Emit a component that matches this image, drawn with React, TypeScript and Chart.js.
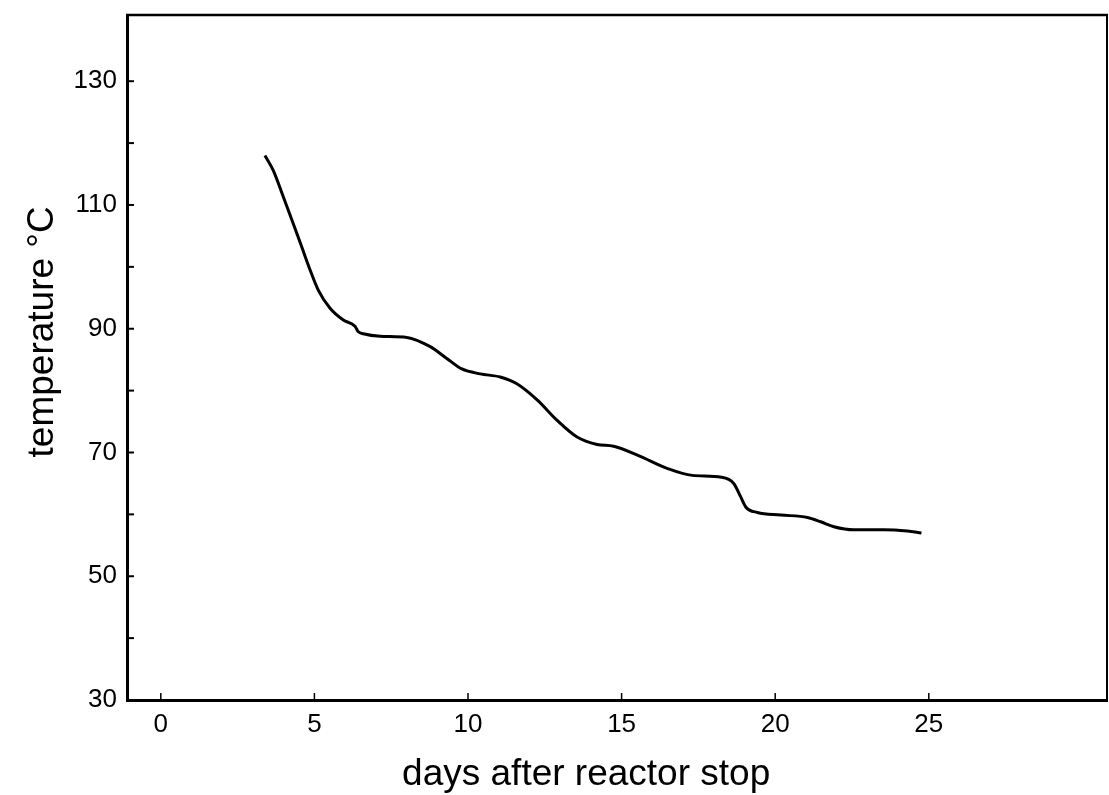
import React, { useEffect, useRef } from 'react';
import { Chart, registerables } from 'chart.js';

Chart.register(...registerables);

// Curve: day after reactor stop, temperature in °C
const DAYS = [
  3.39, 3.66, 3.99, 4.31, 4.59, 4.86, 5.13, 5.51, 5.94, 6.32, 6.43, 6.59, 7.14, 8.01,
  8.77, 9.31, 9.8, 10.4, 11.05, 11.59, 12.25, 12.9, 13.55, 14.2, 14.74, 15.55, 16.5,
  17.3, 18.25, 18.65, 18.87, 19.04, 19.42, 20.18, 21.05, 21.48, 21.91, 22.56, 23.54,
  24.3, 24.76,
];
const TEMPS = [
  118.0, 115.6, 111.3, 107.0, 103.2, 99.5, 96.2, 93.3, 91.4, 90.4, 89.5, 89.2, 88.8, 88.6,
  87.1, 85.2, 83.5, 82.7, 82.2, 81.1, 78.5, 75.2, 72.5, 71.3, 71.0, 69.5, 67.4,
  66.3, 66.0, 65.0, 62.9, 61.2, 60.3, 59.9, 59.5, 58.8, 58.0, 57.5, 57.5,
  57.3, 57.0,
];

const X_TICKS = [0, 5, 10, 15, 20, 25];
const X_LABELS = ['0', '5', '10', '15', '20', '25'];
const Y_TICKS = [30, 40, 50, 60, 70, 80, 90, 100, 110, 120, 130];
const Y_LABELED = [30, 50, 70, 90, 110, 130];

const X_TITLE = 'days after reactor stop';
const Y_TITLE = 'temperature °C';

const FONT = "'Liberation Sans', Arial, Helvetica, sans-serif";

const frameAndTicks = {
  id: 'frameAndTicks',
  afterDraw(chart: any) {
    const { ctx, chartArea: a, scales } = chart;
    const line = (x1: number, y1: number, x2: number, y2: number) => {
      ctx.beginPath();
      ctx.moveTo(x1, y1);
      ctx.lineTo(x2, y2);
      ctx.stroke();
    };
    ctx.save();
    ctx.strokeStyle = '#000';
    ctx.lineWidth = 2.5;
    line(a.left - 1, a.top, a.right + 1, a.top);
    ctx.lineWidth = 2;
    line(a.right, a.top, a.right, a.bottom);
    // inward tick marks
    ctx.lineWidth = 2;
    for (const t of scales.y.ticks) {
      if (t.value <= scales.y.min) continue;
      const py = scales.y.getPixelForValue(t.value);
      line(a.left, py, a.left + 7, py);
    }
    ctx.lineWidth = 1.5;
    for (const t of scales.x.ticks) {
      const px = scales.x.getPixelForValue(t.value);
      line(px, a.bottom, px, a.bottom - 7);
    }
    ctx.restore();
  },
};

export default function App() {
  const ref = useRef<HTMLCanvasElement | null>(null);

  useEffect(() => {
    if (!ref.current) return;
    const chart = new Chart(ref.current, {
      type: 'line',
      data: {
        datasets: [
          {
            data: DAYS.map((d, i) => ({ x: d, y: TEMPS[i] })),
            borderColor: '#000',
            borderWidth: 3,
            pointRadius: 0,
            fill: false,
            cubicInterpolationMode: 'monotone',
          },
        ],
      },
      options: {
        animation: false,
        responsive: false,
        maintainAspectRatio: false,
        layout: { padding: { top: 15, right: 2, left: 0, bottom: 0 } },
        plugins: {
          legend: { display: false },
          tooltip: { enabled: false },
        },
        scales: {
          x: {
            type: 'linear',
            min: -1.1,
            max: 30.8,
            afterBuildTicks: (s: any) => {
              s.ticks = X_TICKS.map((value) => ({ value }));
            },
            afterFit: (s: any) => {
              s.height = 95;
              s.paddingLeft = 0;
              s.paddingRight = 0;
            },
            grid: { display: false, drawTicks: false, tickLength: 0 },
            border: { display: true, color: '#000', width: 3 },
            ticks: {
              autoSkip: false,
              maxRotation: 0,
              padding: 9,
              color: '#000',
              font: { family: FONT, size: 26 },
              callback: (v: any) => {
                const i = X_TICKS.indexOf(Number(v));
                return i >= 0 ? X_LABELS[i] : '';
              },
            },
            title: {
              display: true,
              text: X_TITLE + '      ',
              color: '#000',
              font: { family: FONT, size: 37, lineHeight: 1.1 },
              padding: { top: 0, bottom: 0 },
            },
          },
          y: {
            type: 'linear',
            min: 30,
            max: 140.7,
            afterBuildTicks: (s: any) => {
              s.ticks = Y_TICKS.map((value) => ({ value }));
            },
            afterFit: (s: any) => {
              s.width = 127;
              s.paddingTop = 0;
              s.paddingBottom = 0;
            },
            grid: { display: false, drawTicks: false, tickLength: 0 },
            border: { display: true, color: '#000', width: 3 },
            ticks: {
              autoSkip: false,
              padding: 10,
              color: '#000',
              font: { family: FONT, size: 26 },
              callback: (v: any) => (Y_LABELED.includes(Number(v)) ? String(v) : ''),
            },
            title: {
              display: true,
              text: '     ' + Y_TITLE,
              color: '#000',
              font: { family: FONT, size: 37, lineHeight: 1.1 },
              padding: { top: 22, bottom: 0 },
            },
          },
        },
      },
      plugins: [frameAndTicks],
    } as any);
    return () => chart.destroy();
  }, []);

  return (
    <div style={{ position: 'absolute', left: 0, top: 0, width: 1109, height: 795, background: '#fff' }}>
      <canvas ref={ref} width={1109} height={795} style={{ display: 'block' }} />
    </div>
  );
}
